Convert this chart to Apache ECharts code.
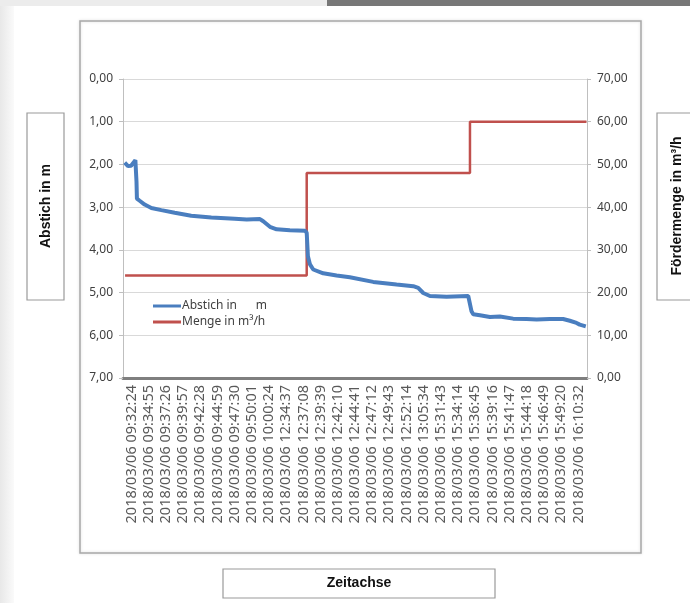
<!DOCTYPE html>
<html lang="de">
<head>
    <meta charset="UTF-8">
    <title>Abstich und Fördermenge</title>
    <script src="https://cdn.jsdelivr.net/npm/echarts@6/dist/echarts.min.js"></script>
    <style>
        * { margin: 0; padding: 0 }
        html, body { width: 100%; height: 100%; background: #fff; }
        #main { width: 690px; height: 603px; }
    </style>
</head>
<body>
<div id="main"></div>
<script type="text/javascript">
    // Zeitachse (Kategorien)
    var zeiten = [
        '2018/03/06 09:32:24', '2018/03/06 09:34:55', '2018/03/06 09:37:26', '2018/03/06 09:39:57',
        '2018/03/06 09:42:28', '2018/03/06 09:44:59', '2018/03/06 09:47:30', '2018/03/06 09:50:01',
        '2018/03/06 10:00:24', '2018/03/06 12:34:37', '2018/03/06 12:37:08', '2018/03/06 12:39:39',
        '2018/03/06 12:42:10', '2018/03/06 12:44:41', '2018/03/06 12:47:12', '2018/03/06 12:49:43',
        '2018/03/06 12:52:14', '2018/03/06 13:05:34', '2018/03/06 15:31:43', '2018/03/06 15:34:14',
        '2018/03/06 15:36:45', '2018/03/06 15:39:16', '2018/03/06 15:41:47', '2018/03/06 15:44:18',
        '2018/03/06 15:46:49', '2018/03/06 15:49:20', '2018/03/06 16:10:32'
    ];

    // Abstich in m (Position auf der Zeitachse, Wert)
    var abstichPos = [-0.40, -0.21, -0.03, 0.08, 0.22, 0.285, 0.31, 0.47, 0.76, 1.15, 1.73, 2.51, 3.47,
        4.64, 6.00, 6.70, 7.47, 7.66, 8.05, 8.44, 9.21, 10.09, 10.19, 10.26, 10.38, 10.57, 11.15, 11.93,
        12.70, 14.06, 15.42, 16.39, 16.68, 16.97, 17.36, 18.33, 19.59, 19.69, 19.78, 19.88, 20.27, 20.85,
        21.43, 22.20, 22.98, 23.57, 24.34, 25.11, 25.50, 25.89, 26.08, 26.43];
    var abstichWert = [1.96, 2.04, 2.03, 2.00, 1.90, 2.40, 2.80, 2.85, 2.94, 3.02, 3.07, 3.13, 3.20,
        3.24, 3.27, 3.29, 3.28, 3.33, 3.46, 3.52, 3.54, 3.55, 3.60, 4.15, 4.34, 4.46, 4.55, 4.60,
        4.64, 4.75, 4.81, 4.85, 4.89, 5.01, 5.08, 5.10, 5.08, 5.10, 5.44, 5.51, 5.53, 5.57,
        5.56, 5.61, 5.62, 5.63, 5.62, 5.62, 5.66, 5.71, 5.75, 5.79];

    // Menge in m3/h
    var mengePos = [-0.38, 10.19, 10.19, 19.69, 19.69, 26.47];
    var mengeWert = [24, 24, 48, 48, 60, 60];

    var komma = function (v) { return v.toFixed(2).replace('.', ','); };
    var paare = function (xs, ys) { return xs.map(function (x, i) { return [x, ys[i]]; }); };

    var myChart = echarts.init(document.getElementById('main'));
    var schrift = 'Noto Sans';
    var titelSchrift = 'Liberation Sans';

    var option = {
        animation: false,
        backgroundColor: '#fff',
        grid: { left: 123, right: 103, top: 79, bottom: 225 },
        legend: {
            orient: 'vertical',
            left: 148,
            top: 295,
            itemWidth: 28,
            itemHeight: 3,
            itemGap: 4,
            icon: 'rect',
            textStyle: { fontFamily: schrift, fontSize: 12, color: '#404040', padding: [0, 0, 0, -4] },
            data: ['Abstich in      m', 'Menge in m³/h']
        },
        xAxis: [{
            type: 'category',
            data: zeiten,
            boundaryGap: true,
            axisLine: { onZero: false, lineStyle: { color: '#7f7f7f', width: 3 } },
            axisTick: { show: false },
            axisLabel: { interval: 0, rotate: 90, margin: 7, fontFamily: schrift, fontSize: 14.5, color: '#595959' }
        }, {
            type: 'value',
            min: -0.5,
            max: 26.5,
            show: false
        }],
        yAxis: [{
            type: 'value',
            inverse: true,
            min: 0,
            max: 7,
            interval: 1,
            axisLine: { show: true, onZero: false, lineStyle: { color: '#bfbfbf' } },
            axisTick: { show: true, length: 4, lineStyle: { color: '#bfbfbf' } },
            splitLine: { lineStyle: { color: '#d9d9d9' } },
            axisLabel: { formatter: komma, margin: 10, fontFamily: schrift, fontSize: 12, color: '#404040' }
        }, {
            type: 'value',
            min: 0,
            max: 70,
            interval: 10,
            axisLine: { show: true, onZero: false, lineStyle: { color: '#bfbfbf' } },
            axisTick: { show: true, length: 4, lineStyle: { color: '#bfbfbf' } },
            splitLine: { show: false },
            axisLabel: { formatter: komma, margin: 10, fontFamily: schrift, fontSize: 12, color: '#404040' }
        }],
        series: [{
            name: 'Abstich in      m',
            type: 'line',
            xAxisIndex: 1,
            yAxisIndex: 0,
            data: paare(abstichPos, abstichWert),
            showSymbol: false,
            color: '#4a7ebf',
            lineStyle: { width: 4, color: '#4a7ebf' },
            z: 3
        }, {
            name: 'Menge in m³/h',
            type: 'line',
            xAxisIndex: 1,
            yAxisIndex: 1,
            data: paare(mengePos, mengeWert),
            showSymbol: false,
            color: '#c0504d',
            lineStyle: { width: 2.5, color: '#c0504d' },
            z: 2
        }],
        graphic: [
            // Seitenrand
            { type: 'rect', left: 0, top: 0, shape: { width: 14, height: 603 }, silent: true,
              style: { fill: new echarts.graphic.LinearGradient(0, 0, 1, 0, [{ offset: 0, color: '#e8e8e8' }, { offset: 1, color: '#fafafa' }]) } },
            { type: 'rect', left: 0, top: 0, shape: { width: 327, height: 6 }, silent: true, style: { fill: '#ececec' } },
            { type: 'rect', left: 327, top: 0, shape: { width: 363, height: 6 }, silent: true, style: { fill: '#777777' } },
            // Diagrammrahmen
            { type: 'rect', shape: { x: 80, y: 21, width: 561, height: 532 }, silent: true,
              style: { fill: 'none', stroke: '#a8a8a8', lineWidth: 1.5, shadowColor: 'rgba(0,0,0,0.15)', shadowBlur: 3 } },
            // Achsentitel
            { type: 'rect', shape: { x: 27, y: 113, width: 37, height: 187 }, silent: true,
              style: { fill: '#fff', stroke: '#9a9a9a', lineWidth: 1.2 } },
            { type: 'text', x: 46, y: 206, rotation: Math.PI / 2, silent: true,
              style: { text: 'Abstich in m', fontFamily: titelSchrift, fontWeight: 'bold', fontSize: 14, fill: '#111', align: 'center', verticalAlign: 'middle' } },
            { type: 'rect', shape: { x: 657, y: 113, width: 40, height: 187 }, silent: true,
              style: { fill: '#fff', stroke: '#9a9a9a', lineWidth: 1.2 } },
            { type: 'text', x: 677, y: 206, rotation: Math.PI / 2, silent: true,
              style: { text: 'Fördermenge in m³/h', fontFamily: titelSchrift, fontWeight: 'bold', fontSize: 14, fill: '#111', align: 'center', verticalAlign: 'middle' } },
            { type: 'rect', shape: { x: 223, y: 569, width: 272, height: 29 }, silent: true,
              style: { fill: '#fff', stroke: '#9a9a9a', lineWidth: 1.2 } },
            { type: 'text', x: 359, y: 583.5, silent: true,
              style: { text: 'Zeitachse', fontFamily: titelSchrift, fontWeight: 'bold', fontSize: 14, fill: '#111', align: 'center', verticalAlign: 'middle' } }
        ]
    };

    myChart.setOption(option);
</script>
</body>
</html>
